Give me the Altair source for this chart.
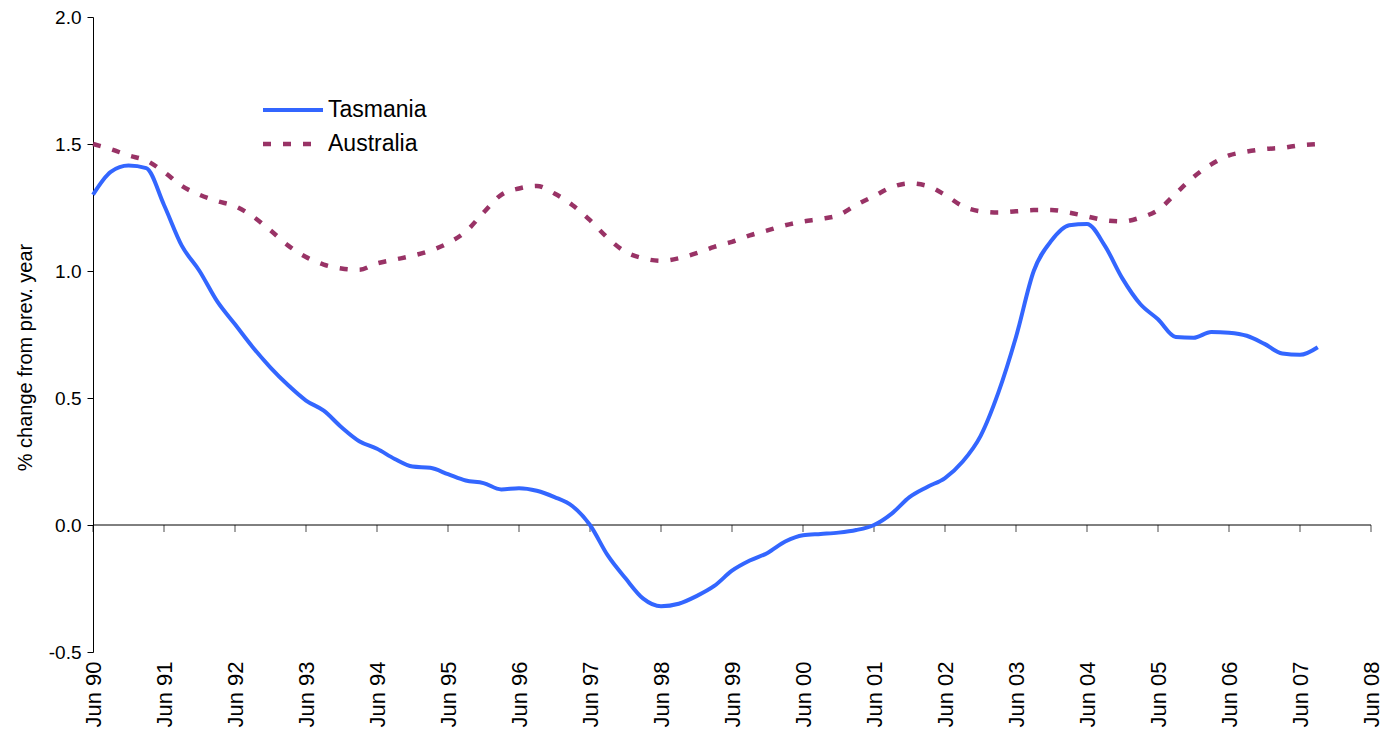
import altair as alt
import pandas as pd

FONT = "Liberation Sans"

# Quarterly observations, years since Jun 1990
T = [i * 0.25 for i in range(70)]

TASMANIA = [
    1.30, 1.39, 1.415, 1.405, 1.26, 1.10, 1.00, 0.88, 0.79, 0.70,
    0.62, 0.55, 0.49, 0.45, 0.385, 0.33, 0.30, 0.26, 0.23, 0.225,
    0.20, 0.175, 0.165, 0.14, 0.145, 0.135, 0.11, 0.075, 0.00, -0.12,
    -0.21, -0.29, -0.32, -0.31, -0.28, -0.24, -0.18, -0.14, -0.11, -0.065,
    -0.04, -0.035, -0.03, -0.02, 0.00, 0.045, 0.11, 0.15, 0.185, 0.25,
    0.35, 0.52, 0.74, 1.00, 1.12, 1.18, 1.185, 1.10, 0.97, 0.87,
    0.81, 0.74, 0.737, 0.76, 0.757, 0.745, 0.713, 0.675, 0.67, 0.70,
]

AUSTRALIA = [
    1.50, 1.48, 1.455, 1.435, 1.39, 1.335, 1.30, 1.275, 1.255, 1.215,
    1.16, 1.10, 1.055, 1.025, 1.01, 1.005, 1.03, 1.045, 1.06, 1.08,
    1.11, 1.155, 1.23, 1.30, 1.325, 1.335, 1.305, 1.26, 1.20, 1.13,
    1.075, 1.05, 1.04, 1.05, 1.07, 1.095, 1.115, 1.14, 1.16, 1.18,
    1.195, 1.205, 1.22, 1.26, 1.295, 1.33, 1.345, 1.335, 1.30, 1.255,
    1.235, 1.23, 1.235, 1.24, 1.24, 1.23, 1.215, 1.20, 1.195, 1.21,
    1.24, 1.305, 1.37, 1.42, 1.455, 1.47, 1.48, 1.485, 1.495, 1.50,
]

TICK_POS = list(range(19))
TICK_LABELS = ["Jun 90", "Jun 91", "Jun 92", "Jun 93", "Jun 94", "Jun 95",
               "Jun 96", "Jun 97", "Jun 98", "Jun 99", "Jun 00", "Jun 01",
               "Jun 02", "Jun 03", "Jun 04", "Jun 05", "Jun 06", "Jun 07",
               "Jun 08"]
Y_TICKS = [-0.5, 0.0, 0.5, 1.0, 1.5, 2.0]
SERIES = ["Tasmania", "Australia"]

BLUE = "#3366FF"
PLUM = "#993366"

tas = pd.DataFrame({"t": T, "v": TASMANIA})
aus = pd.DataFrame({"t": T, "v": AUSTRALIA})
ticks = pd.DataFrame({"t": TICK_POS})
one = pd.DataFrame({"k": [0]})

label_expr = "[" + ",".join("'%s'" % s for s in TICK_LABELS) + "][round(datum.value)]"
y_label_expr = "(datum.value < 0 ? '-' : '') + format(abs(datum.value), '.1f')"

x_scale = alt.Scale(domain=[0, 18], nice=False, zero=False)
y_scale = alt.Scale(domain=[-0.5, 2.0], nice=False)

x_axis = alt.Axis(values=TICK_POS, labelExpr=label_expr, labelAngle=-90,
                  labelAlign="right", labelBaseline="middle", labelPadding=9,
                  domain=False, ticks=False, grid=False, title=None,
                  labelFont=FONT, labelFontSize=22, labelColor="black",
                  labelOverlap=False, labelFlush=False)
y_axis = alt.Axis(values=Y_TICKS, labelExpr=y_label_expr, grid=False,
                  domainColor="black", tickColor="black", tickSize=6,
                  labelPadding=6, labelFont=FONT, labelFontSize=19,
                  labelColor="black",
                  title="% change from prev. year", titleFont=FONT,
                  titleFontSize=20, titleFontWeight="normal",
                  titleColor="black", titleX=-68, titleY=340,
                  titleBaseline="middle", titleAngle=270)

base_x = alt.X("t:Q", scale=x_scale, axis=x_axis)
base_y = alt.Y("v:Q", scale=y_scale, axis=y_axis)

zero_line = alt.Chart(one).mark_rule(color="black", strokeWidth=1).encode(
    y=alt.datum(0, scale=y_scale)
)
tick_marks = alt.Chart(ticks).mark_tick(
    orient="vertical", size=7, thickness=1, yOffset=3.5, color="black"
).encode(x=alt.X("t:Q", scale=x_scale), y=alt.datum(0))

aus_line = alt.Chart(aus).mark_line(
    color=PLUM, strokeWidth=4.5, strokeDash=[8, 12], interpolate="monotone"
).encode(x=base_x, y=base_y)
tas_line = alt.Chart(tas).mark_line(
    color=BLUE, strokeWidth=4, interpolate="monotone"
).encode(x=alt.X("t:Q", scale=x_scale), y=alt.Y("v:Q", scale=y_scale))

# Legend (drawn as marks)
leg_tas_line = alt.Chart(one).mark_rule(color=BLUE, strokeWidth=4).encode(
    x=alt.value(170), x2=alt.value(230), y=alt.value(93))
leg_aus_line = alt.Chart(one).mark_rule(
    color=PLUM, strokeWidth=4.5, strokeDash=[8, 12]).encode(
    x=alt.value(170), x2=alt.value(220), y=alt.value(127))
leg_tas_text = alt.Chart(one).mark_text(
    text=SERIES[0], align="left", baseline="middle", font=FONT,
    fontSize=23, color="black").encode(x=alt.value(235), y=alt.value(93))
leg_aus_text = alt.Chart(one).mark_text(
    text=SERIES[1], align="left", baseline="middle", font=FONT,
    fontSize=23, color="black").encode(x=alt.value(235), y=alt.value(127))

chart = alt.layer(
    aus_line, zero_line, tick_marks, tas_line,
    leg_tas_line, leg_aus_line, leg_tas_text, leg_aus_text
).properties(
    width=1278, height=635,
    autosize=alt.AutoSizeParams(type="none"),
    padding={"left": 85, "top": 9, "right": 12, "bottom": 76},
    background="white",
).configure_view(stroke=None)

chart.save("out.html", embed_options={"renderer": "svg", "actions": False})
